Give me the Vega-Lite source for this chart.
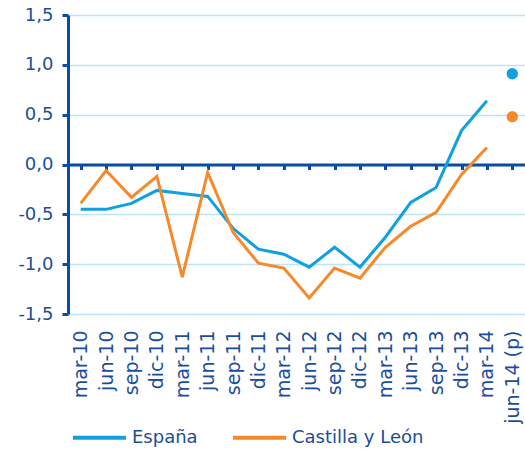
{
  "$schema": "https://vega.github.io/schema/vega-lite/v6.json",
  "width": 457,
  "height": 299,
  "autosize": {"type": "none"},
  "padding": {"left": 68, "top": 15, "right": 0, "bottom": 136},
  "background": "white",
  "config": {
    "view": {"stroke": null},
    "font": "DejaVu Sans",
    "legend": {
      "orient": "none",
      "legendX": 3,
      "legendY": 394,
      "direction": "horizontal",
      "symbolType": "M-1,0L1,0",
      "symbolSize": 2809,
      "symbolStrokeWidth": 4,
      "labelFont": "DejaVu Sans",
      "labelFontSize": 18,
      "labelColor": "#1A4E9C",
      "columnPadding": 27,
      "labelOffset": 4,
      "title": null
    }
  },
  "data": {
    "values": [
      {"fecha": "mar-10", "serie": "España", "valor": -0.45, "p": 0},
      {"fecha": "jun-10", "serie": "España", "valor": -0.45, "p": 0},
      {"fecha": "sep-10", "serie": "España", "valor": -0.39, "p": 0},
      {"fecha": "dic-10", "serie": "España", "valor": -0.26, "p": 0},
      {"fecha": "mar-11", "serie": "España", "valor": -0.29, "p": 0},
      {"fecha": "jun-11", "serie": "España", "valor": -0.32, "p": 0},
      {"fecha": "sep-11", "serie": "España", "valor": -0.64, "p": 0},
      {"fecha": "dic-11", "serie": "España", "valor": -0.85, "p": 0},
      {"fecha": "mar-12", "serie": "España", "valor": -0.9, "p": 0},
      {"fecha": "jun-12", "serie": "España", "valor": -1.03, "p": 0},
      {"fecha": "sep-12", "serie": "España", "valor": -0.83, "p": 0},
      {"fecha": "dic-12", "serie": "España", "valor": -1.03, "p": 0},
      {"fecha": "mar-13", "serie": "España", "valor": -0.73, "p": 0},
      {"fecha": "jun-13", "serie": "España", "valor": -0.38, "p": 0},
      {"fecha": "sep-13", "serie": "España", "valor": -0.23, "p": 0},
      {"fecha": "dic-13", "serie": "España", "valor": 0.34, "p": 0},
      {"fecha": "mar-14", "serie": "España", "valor": 0.64, "p": 0},
      {"fecha": "jun-14 (p)", "serie": "España", "valor": 0.91, "p": 1},
      {"fecha": "mar-10", "serie": "Castilla y León", "valor": -0.39, "p": 0},
      {"fecha": "jun-10", "serie": "Castilla y León", "valor": -0.06, "p": 0},
      {"fecha": "sep-10", "serie": "Castilla y León", "valor": -0.33, "p": 0},
      {"fecha": "dic-10", "serie": "Castilla y León", "valor": -0.12, "p": 0},
      {"fecha": "mar-11", "serie": "Castilla y León", "valor": -1.13, "p": 0},
      {"fecha": "jun-11", "serie": "Castilla y León", "valor": -0.08, "p": 0},
      {"fecha": "sep-11", "serie": "Castilla y León", "valor": -0.68, "p": 0},
      {"fecha": "dic-11", "serie": "Castilla y León", "valor": -0.99, "p": 0},
      {"fecha": "mar-12", "serie": "Castilla y León", "valor": -1.04, "p": 0},
      {"fecha": "jun-12", "serie": "Castilla y León", "valor": -1.34, "p": 0},
      {"fecha": "sep-12", "serie": "Castilla y León", "valor": -1.04, "p": 0},
      {"fecha": "dic-12", "serie": "Castilla y León", "valor": -1.14, "p": 0},
      {"fecha": "mar-13", "serie": "Castilla y León", "valor": -0.83, "p": 0},
      {"fecha": "jun-13", "serie": "Castilla y León", "valor": -0.62, "p": 0},
      {"fecha": "sep-13", "serie": "Castilla y León", "valor": -0.48, "p": 0},
      {"fecha": "dic-13", "serie": "Castilla y León", "valor": -0.1, "p": 0},
      {"fecha": "mar-14", "serie": "Castilla y León", "valor": 0.17, "p": 0},
      {"fecha": "jun-14 (p)", "serie": "Castilla y León", "valor": 0.48, "p": 1}
    ]
  },
  "resolve": {"axis": {"x": "independent"}},
  "layer": [
    {
      "transform": [{"filter": "datum.p == 0"}],
      "mark": {"type": "line", "strokeWidth": 3},
      "encoding": {
        "x": {
          "field": "fecha",
          "type": "nominal",
          "scale": {"domain": ["mar-10","jun-10","sep-10","dic-10","mar-11","jun-11","sep-11","dic-11","mar-12","jun-12","sep-12","dic-12","mar-13","jun-13","sep-13","dic-13","mar-14","jun-14 (p)"], "paddingInner": 0, "paddingOuter": 0},
          "axis": {
            "orient": "bottom",
            "title": null,
            "domain": false,
            "ticks": false,
            "grid": false,
            "labelAngle": -90,
            "labelPadding": 16,
            "labelFont": "DejaVu Sans",
            "labelFontSize": 19,
            "labelColor": "#1A4E9C"
          }
        },
        "y": {
          "field": "valor",
          "type": "quantitative",
          "scale": {"domain": [-1.5, 1.5], "nice": false},
          "axis": {
            "title": null,
            "values": [-1.5, -1, -0.5, 0, 0.5, 1, 1.5],
            "labelExpr": "(datum.value < 0 ? '-' : '') + replace(format(abs(datum.value), '.1f'), '.', ',')",
            "labelFont": "DejaVu Sans",
            "labelFontSize": 18,
            "labelColor": "#1A4E9C",
            "labelPadding": 9,
            "domainColor": "#0B4DA2",
            "domainWidth": 3,
            "tickColor": "#0B4DA2",
            "tickWidth": 3,
            "tickSize": 6,
            "gridColor": "#B9E5F8",
            "gridWidth": 1.5
          }
        },
        "color": {
          "field": "serie",
          "type": "nominal",
          "scale": {"domain": ["España", "Castilla y León"], "range": ["#0FA0E0", "#F7892A"]},
          "legend": {}
        }
      }
    },
    {
      "transform": [{"filter": "datum.p == 1"}],
      "mark": {"type": "point", "filled": true, "size": 130, "opacity": 1},
      "encoding": {
        "x": {
          "field": "fecha",
          "type": "nominal",
          "axis": {
            "orient": "bottom",
            "offset": -149.5,
            "title": null,
            "labels": false,
            "grid": false,
            "domain": true,
            "domainColor": "#0B4DA2",
            "domainWidth": 3,
            "ticks": true,
            "bandPosition": 0,
            "tickColor": "#0B4DA2",
            "tickWidth": 3,
            "tickSize": 5
          }
        },
        "y": {"field": "valor", "type": "quantitative"},
        "color": {"field": "serie", "type": "nominal", "legend": null}
      }
    }
  ]
}
